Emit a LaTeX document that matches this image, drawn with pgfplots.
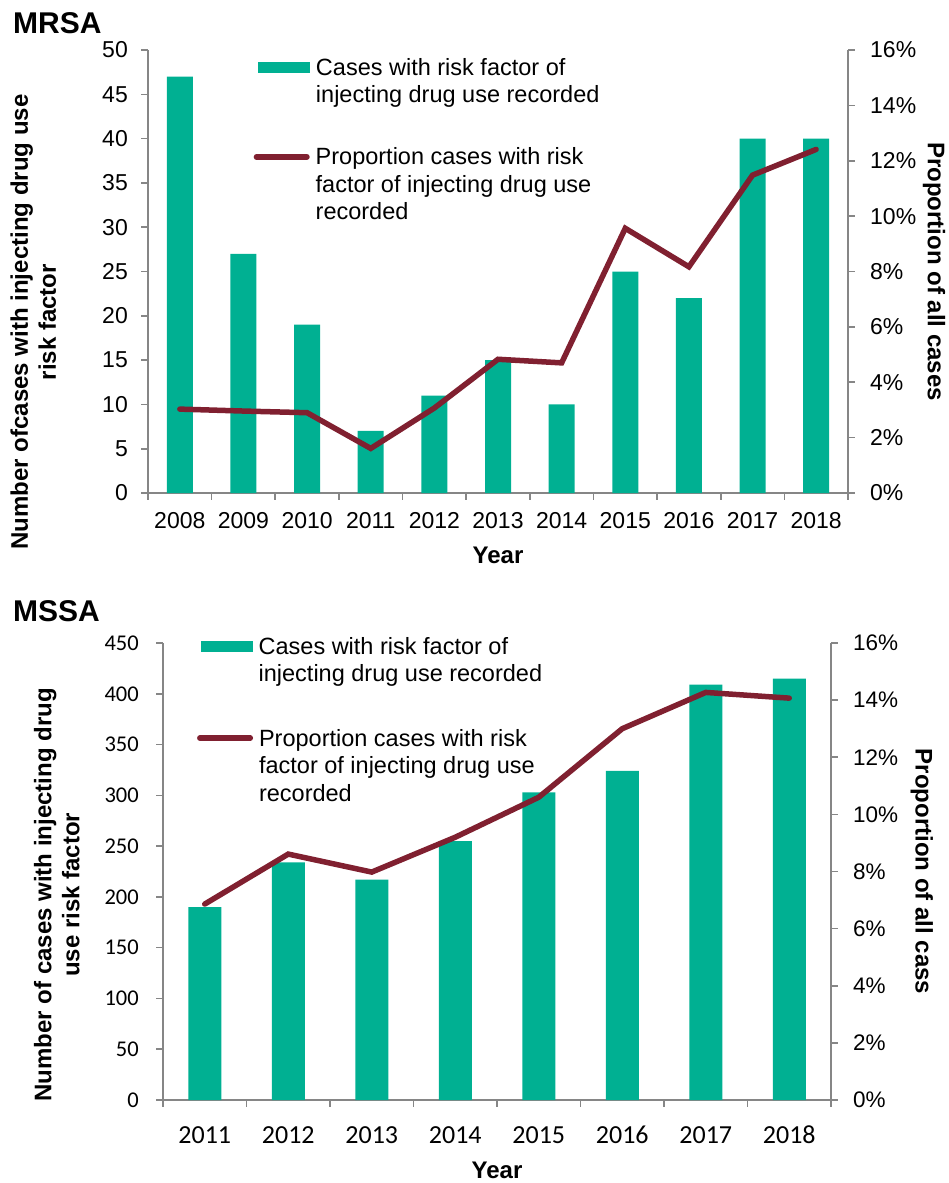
\documentclass[border=0pt]{standalone}
\usepackage{fontspec}
\setmainfont{Liberation Sans}
\newfontfamily\calibri{Carlito}
\usepackage{pgfplots}
\pgfplotsset{compat=1.18}

\definecolor{barteal}{RGB}{0,176,146}
\definecolor{linered}{RGB}{128,32,48}
\definecolor{axgray}{RGB}{134,134,134}

\newcommand{\fs}[2]{\fontsize{#1}{#2}\selectfont}

\pgfplotsset{
  base/.style={
    scale only axis, anchor=south west,
    axis line style={axgray, line width=1.6pt},
    tick style={axgray, line width=1.6pt},
    tick align=outside, major tick length=6.7pt,
    clip=false,
  },
  leg/.style={
    legend style={draw=none, fill=none, inner sep=0pt, outer sep=0pt,
      anchor=north west, column sep=6pt,
      nodes={inner sep=0pt, outer sep=0pt},
      cells={anchor=base west},
      font=\fs{23.5}{27.5}},
  },
  barleg/.style={legend image code/.code={\fill[barteal] (0pt,1.9pt) rectangle (52pt,13.1pt);}},
  lineleg/.style={legend image code/.code={\draw[linered, line width=5.5pt, line cap=round] (0pt,8pt) -- (50.5pt,8pt);}},
}

\begin{document}
\begin{tikzpicture}
\useasboundingbox (0pt,0pt) rectangle (948pt,-1183pt);

\node[anchor=base west, inner sep=0pt, font=\bfseries\fs{30}{34}] at (13pt,-33pt) {MRSA};
\node[anchor=base west, inner sep=0pt, font=\bfseries\fs{30}{34}] at (13pt,-621.7pt) {MSSA};

% ---------- MRSA: bars ----------
\begin{axis}[base, leg,
  at={(148pt,-493pt)}, width=700pt, height=443pt,
  ybar, bar width=26pt, barleg,
  xmin=-0.5, xmax=10.5, ymin=0, ymax=50,
  axis x line*=bottom, axis y line*=left,
  xtick={-0.5,0.5,1.5,2.5,3.5,4.5,5.5,6.5,7.5,8.5,9.5,10.5},
  xticklabels={2008,2009,2010,2011,2012,2013,2014,2015,2016,2017,2018,{}},
  x tick label style={anchor=base, inner sep=0pt, xshift=31.82pt, yshift=-28.3pt, font=\fs{23}{27}},
  ytick={0,5,10,15,20,25,30,35,40,45,50},
  yticklabels={0,5,10,15,20,25,30,35,40,45,50},
  y tick label style={anchor=east, inner sep=0pt, xshift=-13.3pt, font=\fs{23}{27}},
  xlabel={Year},
  xlabel style={at={(axis description cs:0.5,-0.14)}, anchor=center, font=\bfseries\fs{24}{28}},
  ylabel={Number ofcases with injecting drug use\\risk factor},
  ylabel style={at={(axis description cs:-0.164,0.386)}, anchor=center, align=center, font=\bfseries\fs{24}{28}},
  legend style={at={(axis description cs:0.1571,0.9870)}},
]
\addplot[fill=barteal, draw=none] coordinates {
  (0,47) (1,27) (2,19) (3,7) (4,11) (5,15) (6,10) (7,25) (8,22) (9,40) (10,40)};
\addlegendentry{\begin{tabular}[t]{@{}l@{}}Cases with risk factor of\\injecting drug use recorded\end{tabular}}
\end{axis}

% ---------- MRSA: proportion ----------
\begin{axis}[base, leg, lineleg,
  at={(148pt,-493pt)}, width=700pt, height=443pt,
  xmin=-0.5, xmax=10.5, ymin=0, ymax=16,
  axis x line=none, axis y line*=right,
  ytick={0,2,4,6,8,10,12,14,16},
  yticklabels={0\%,2\%,4\%,6\%,8\%,10\%,12\%,14\%,16\%},
  y tick label style={anchor=west, inner sep=0pt, xshift=15.3pt, font=\fs{23}{27}},
  ylabel={Proportion of all cases},
  ylabel style={at={(axis description cs:1.123,0.5)}, anchor=center, rotate=180, font=\bfseries\fs{24}{28}},
  legend style={at={(axis description cs:0.1510,0.7839)}},
]
\addplot[linered, line width=5.5pt, line cap=round] coordinates {
  (0,3.03) (1,2.96) (2,2.90) (3,1.61) (4,3.07) (5,4.83) (6,4.70) (7,9.56) (8,8.17) (9,11.48) (10,12.41)};
\addlegendentry{\begin{tabular}[t]{@{}l@{}}Proportion cases with risk\\factor of injecting drug use\\recorded\end{tabular}}
\end{axis}

% ---------- MSSA: bars ----------
\begin{axis}[base, leg,
  at={(163pt,-1100pt)}, width=668pt, height=457pt,
  ybar, bar width=33pt, barleg,
  xmin=-0.5, xmax=7.5, ymin=0, ymax=450,
  axis x line*=bottom, axis y line*=left,
  xtick={-0.5,0.5,1.5,2.5,3.5,4.5,5.5,6.5,7.5},
  xticklabels={2011,2012,2013,2014,2015,2016,2017,2018,{}},
  x tick label style={anchor=base, inner sep=0pt, xshift=41.75pt, yshift=-36.3pt, font=\calibri\fs{26}{30}},
  ytick={0,50,100,150,200,250,300,350,400,450},
  yticklabels={0,50,100,150,200,250,300,350,400,450},
  y tick label style={anchor=east, inner sep=0pt, xshift=-17.3pt, font=\calibri\fs{22.5}{27}},
  xlabel={Year},
  xlabel style={at={(axis description cs:0.5,-0.153)}, anchor=center, font=\bfseries\fs{24}{28}},
  ylabel={Number of cases with injecting drug\\use risk factor},
  ylabel style={at={(axis description cs:-0.159,0.449)}, anchor=center, align=center, font=\bfseries\fs{24}{28}},
  legend style={at={(axis description cs:0.0564,1.018)}},
]
\addplot[fill=barteal, draw=none] coordinates {
  (0,190) (1,234) (2,217) (3,255) (4,303) (5,324) (6,409) (7,415)};
\addlegendentry{\begin{tabular}[t]{@{}l@{}}Cases with risk factor of\\injecting drug use recorded\end{tabular}}
\end{axis}

% ---------- MSSA: proportion ----------
\begin{axis}[base, leg, lineleg,
  at={(163pt,-1100pt)}, width=668pt, height=457pt,
  xmin=-0.5, xmax=7.5, ymin=0, ymax=16,
  axis x line=none, axis y line*=right,
  ytick={0,2,4,6,8,10,12,14,16},
  yticklabels={0\%,2\%,4\%,6\%,8\%,10\%,12\%,14\%,16\%},
  y tick label style={anchor=west, inner sep=0pt, xshift=15.3pt, font=\fs{22.5}{27}},
  ylabel={Proportion of all cass},
  ylabel style={at={(axis description cs:1.136,0.5)}, anchor=center, rotate=180, font=\bfseries\fs{24}{28}},
  legend style={at={(axis description cs:0.0510,0.8167)}},
]
\addplot[linered, line width=5.5pt, line cap=round] coordinates {
  (0,6.86) (1,8.61) (2,7.98) (3,9.2) (4,10.6) (5,13.0) (6,14.27) (7,14.07)};
\addlegendentry{\begin{tabular}[t]{@{}l@{}}Proportion cases with risk\\factor of injecting drug use\\recorded\end{tabular}}
\end{axis}
\end{tikzpicture}
\end{document}
